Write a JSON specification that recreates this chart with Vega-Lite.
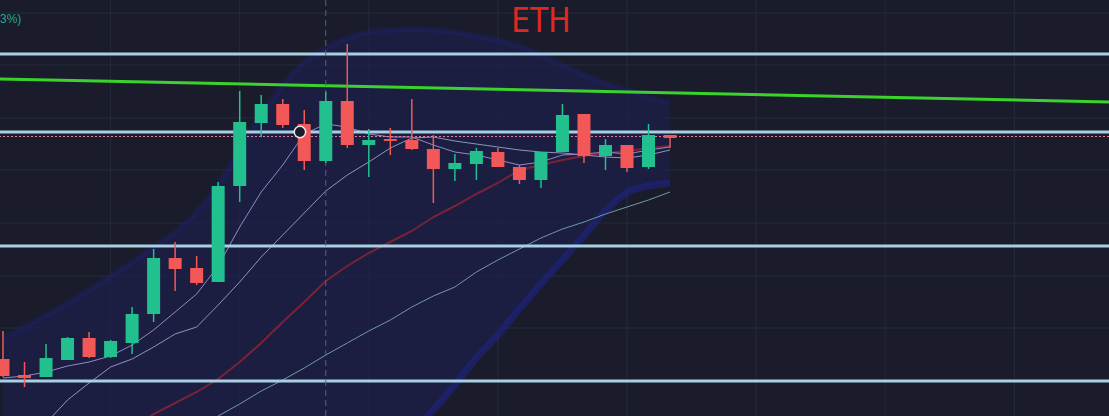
{
  "$schema": "https://vega.github.io/schema/vega-lite/v6.json",
  "width": 1109,
  "height": 416,
  "autosize": {"type": "none"},
  "padding": 0,
  "background": "#1a1c2b",
  "config": {"view": {"stroke": null}},
  "datasets": {
    "candles": [
      {"i": 0, "open": 57, "high": 85, "low": 39, "close": 40},
      {"i": 1, "open": 41, "high": 54, "low": 29, "close": 38},
      {"i": 2, "open": 39, "high": 72, "low": 39, "close": 58},
      {"i": 3, "open": 56, "high": 79, "low": 56, "close": 78},
      {"i": 4, "open": 78, "high": 84, "low": 58, "close": 59},
      {"i": 5, "open": 59, "high": 76, "low": 58, "close": 75},
      {"i": 6, "open": 73, "high": 109, "low": 62, "close": 102},
      {"i": 7, "open": 102, "high": 167, "low": 94, "close": 158},
      {"i": 8, "open": 158, "high": 174, "low": 125, "close": 147},
      {"i": 9, "open": 148, "high": 160, "low": 131, "close": 133},
      {"i": 10, "open": 134, "high": 234, "low": 134, "close": 230},
      {"i": 11, "open": 230, "high": 325, "low": 214, "close": 294},
      {"i": 12, "open": 293, "high": 321, "low": 279, "close": 312},
      {"i": 13, "open": 312, "high": 317, "low": 288, "close": 291},
      {"i": 14, "open": 292, "high": 306, "low": 246, "close": 255},
      {"i": 15, "open": 255, "high": 324, "low": 253, "close": 315},
      {"i": 16, "open": 315, "high": 372, "low": 268, "close": 271},
      {"i": 17, "open": 271, "high": 287, "low": 239, "close": 276},
      {"i": 18, "open": 277, "high": 288, "low": 261, "close": 275},
      {"i": 19, "open": 276, "high": 317, "low": 266, "close": 267},
      {"i": 20, "open": 267, "high": 281, "low": 213, "close": 247},
      {"i": 21, "open": 247, "high": 262, "low": 235, "close": 253},
      {"i": 22, "open": 252, "high": 268, "low": 236, "close": 265},
      {"i": 23, "open": 264, "high": 268, "low": 249, "close": 249},
      {"i": 24, "open": 249, "high": 251, "low": 232, "close": 236},
      {"i": 25, "open": 236, "high": 264, "low": 228, "close": 264},
      {"i": 26, "open": 264, "high": 312, "low": 264, "close": 301},
      {"i": 27, "open": 302, "high": 302, "low": 253, "close": 260},
      {"i": 28, "open": 260, "high": 277, "low": 246, "close": 271},
      {"i": 29, "open": 271, "high": 271, "low": 244, "close": 248},
      {"i": 30, "open": 249, "high": 292, "low": 247, "close": 281},
      {"i": 31, "open": 281, "high": 281, "low": 268, "close": 278}
    ],
    "band": [
      {"i": 0, "up": 78, "lo": -234}, {"i": 1, "up": 89, "lo": -224},
      {"i": 2, "up": 101, "lo": -214}, {"i": 3, "up": 113, "lo": -199},
      {"i": 4, "up": 126, "lo": -184}, {"i": 5, "up": 140, "lo": -169},
      {"i": 6, "up": 154, "lo": -154}, {"i": 7, "up": 169, "lo": -139},
      {"i": 8, "up": 184, "lo": -129}, {"i": 9, "up": 204, "lo": -119},
      {"i": 10, "up": 231, "lo": -109}, {"i": 11, "up": 266, "lo": -99},
      {"i": 12, "up": 301, "lo": -89}, {"i": 13, "up": 331, "lo": -79},
      {"i": 14, "up": 354, "lo": -69}, {"i": 15, "up": 368, "lo": -54},
      {"i": 16, "up": 378, "lo": -46}, {"i": 17, "up": 384, "lo": -39},
      {"i": 18, "up": 386, "lo": -31}, {"i": 19, "up": 387, "lo": -16},
      {"i": 20, "up": 386, "lo": 6}, {"i": 21, "up": 384, "lo": 31},
      {"i": 22, "up": 380, "lo": 58}, {"i": 23, "up": 376, "lo": 81},
      {"i": 24, "up": 370, "lo": 107}, {"i": 25, "up": 361, "lo": 132},
      {"i": 26, "up": 351, "lo": 156}, {"i": 27, "up": 341, "lo": 180},
      {"i": 28, "up": 333, "lo": 205}, {"i": 29, "up": 326, "lo": 223},
      {"i": 30, "up": 319, "lo": 230}, {"i": 31, "up": 313, "lo": 233}
    ],
    "ma": [
      {"k": "fast", "i": 0, "v": 38}, {"k": "fast", "i": 1, "v": 40}, {"k": "fast", "i": 2, "v": 44},
      {"k": "fast", "i": 3, "v": 50}, {"k": "fast", "i": 4, "v": 54}, {"k": "fast", "i": 5, "v": 60},
      {"k": "fast", "i": 6, "v": 71}, {"k": "fast", "i": 7, "v": 86}, {"k": "fast", "i": 8, "v": 104},
      {"k": "fast", "i": 9, "v": 122}, {"k": "fast", "i": 10, "v": 150}, {"k": "fast", "i": 11, "v": 189},
      {"k": "fast", "i": 12, "v": 224}, {"k": "fast", "i": 13, "v": 251}, {"k": "fast", "i": 14, "v": 282},
      {"k": "fast", "i": 15, "v": 292}, {"k": "fast", "i": 16, "v": 289}, {"k": "fast", "i": 17, "v": 282},
      {"k": "fast", "i": 18, "v": 279}, {"k": "fast", "i": 19, "v": 279}, {"k": "fast", "i": 20, "v": 271},
      {"k": "fast", "i": 21, "v": 264}, {"k": "fast", "i": 22, "v": 261}, {"k": "fast", "i": 23, "v": 256},
      {"k": "fast", "i": 24, "v": 251}, {"k": "fast", "i": 25, "v": 254}, {"k": "fast", "i": 26, "v": 261},
      {"k": "fast", "i": 27, "v": 262}, {"k": "fast", "i": 28, "v": 264}, {"k": "fast", "i": 29, "v": 262},
      {"k": "fast", "i": 30, "v": 266}, {"k": "fast", "i": 31, "v": 269},
      {"k": "mid", "i": 0, "v": -39}, {"k": "mid", "i": 1, "v": -24}, {"k": "mid", "i": 2, "v": -7},
      {"k": "mid", "i": 3, "v": 16}, {"k": "mid", "i": 4, "v": 33}, {"k": "mid", "i": 5, "v": 49},
      {"k": "mid", "i": 6, "v": 57}, {"k": "mid", "i": 7, "v": 69}, {"k": "mid", "i": 8, "v": 82},
      {"k": "mid", "i": 9, "v": 89}, {"k": "mid", "i": 10, "v": 111}, {"k": "mid", "i": 11, "v": 134},
      {"k": "mid", "i": 12, "v": 159}, {"k": "mid", "i": 13, "v": 181}, {"k": "mid", "i": 14, "v": 203},
      {"k": "mid", "i": 15, "v": 225}, {"k": "mid", "i": 16, "v": 241}, {"k": "mid", "i": 17, "v": 254},
      {"k": "mid", "i": 18, "v": 268}, {"k": "mid", "i": 19, "v": 278}, {"k": "mid", "i": 20, "v": 279},
      {"k": "mid", "i": 21, "v": 275}, {"k": "mid", "i": 22, "v": 272}, {"k": "mid", "i": 23, "v": 269},
      {"k": "mid", "i": 24, "v": 266}, {"k": "mid", "i": 25, "v": 264}, {"k": "mid", "i": 26, "v": 263},
      {"k": "mid", "i": 27, "v": 261}, {"k": "mid", "i": 28, "v": 259}, {"k": "mid", "i": 29, "v": 258},
      {"k": "mid", "i": 30, "v": 261}, {"k": "mid", "i": 31, "v": 266},
      {"k": "slow", "i": 4, "v": -39}, {"k": "slow", "i": 5, "v": -24}, {"k": "slow", "i": 6, "v": -14},
      {"k": "slow", "i": 7, "v": 2}, {"k": "slow", "i": 8, "v": 13}, {"k": "slow", "i": 9, "v": 24},
      {"k": "slow", "i": 10, "v": 37}, {"k": "slow", "i": 11, "v": 54}, {"k": "slow", "i": 12, "v": 73},
      {"k": "slow", "i": 13, "v": 94}, {"k": "slow", "i": 14, "v": 114}, {"k": "slow", "i": 15, "v": 135},
      {"k": "slow", "i": 16, "v": 150}, {"k": "slow", "i": 17, "v": 163}, {"k": "slow", "i": 18, "v": 174},
      {"k": "slow", "i": 19, "v": 185}, {"k": "slow", "i": 20, "v": 199}, {"k": "slow", "i": 21, "v": 210},
      {"k": "slow", "i": 22, "v": 222}, {"k": "slow", "i": 23, "v": 233}, {"k": "slow", "i": 24, "v": 246},
      {"k": "slow", "i": 25, "v": 251}, {"k": "slow", "i": 26, "v": 256}, {"k": "slow", "i": 27, "v": 260},
      {"k": "slow", "i": 28, "v": 263}, {"k": "slow", "i": 29, "v": 265}, {"k": "slow", "i": 30, "v": 268},
      {"k": "slow", "i": 31, "v": 270},
      {"k": "long", "i": 9, "v": -12}, {"k": "long", "i": 10, "v": 0}, {"k": "long", "i": 11, "v": 12},
      {"k": "long", "i": 12, "v": 25}, {"k": "long", "i": 13, "v": 36}, {"k": "long", "i": 14, "v": 48},
      {"k": "long", "i": 15, "v": 61}, {"k": "long", "i": 16, "v": 73}, {"k": "long", "i": 17, "v": 85},
      {"k": "long", "i": 18, "v": 96}, {"k": "long", "i": 19, "v": 109}, {"k": "long", "i": 20, "v": 120},
      {"k": "long", "i": 21, "v": 129}, {"k": "long", "i": 22, "v": 144}, {"k": "long", "i": 23, "v": 156},
      {"k": "long", "i": 24, "v": 167}, {"k": "long", "i": 25, "v": 178}, {"k": "long", "i": 26, "v": 187},
      {"k": "long", "i": 27, "v": 194}, {"k": "long", "i": 28, "v": 202}, {"k": "long", "i": 29, "v": 209},
      {"k": "long", "i": 30, "v": 216}, {"k": "long", "i": 31, "v": 224}
    ],
    "gridX": [{"i": 5}, {"i": 11}, {"i": 17}, {"i": 23}, {"i": 29}, {"i": 35}, {"i": 41}, {"i": 47}],
    "gridY": [{"v": 403}, {"v": 351}, {"v": 298}, {"v": 246}, {"v": 193}, {"v": 140}, {"v": 88}, {"v": 35}],
    "levels": [{"v": 362}, {"v": 284}, {"v": 170}, {"v": 35}],
    "trend": [{"i": -0.1394, "v": 337}, {"i": 51.4, "v": 314}]
  },
  "layer": [
    {
      "data": {"name": "gridX"},
      "mark": {"type": "rule", "color": "#262a3b", "strokeWidth": 1},
      "encoding": {
        "x": {"field": "i", "type": "quantitative", "scale": {"domain": [-0.1394, 51.4], "nice": false, "zero": false, "padding": 0}, "axis": null}
      }
    },
    {
      "data": {"name": "gridY"},
      "mark": {"type": "rule", "color": "#262a3b", "strokeWidth": 1},
      "encoding": {
        "y": {"field": "v", "type": "quantitative", "scale": {"domain": [0, 416], "nice": false, "zero": false, "padding": 0}, "axis": null}
      }
    },
    {
      "data": {"name": "band"},
      "mark": {"type": "area", "color": "#1d1f4c", "opacity": 0.7, "clip": true, "interpolate": "monotone"},
      "encoding": {
        "x": {"field": "i", "type": "quantitative"},
        "y": {"field": "up", "type": "quantitative"},
        "y2": {"field": "lo"}
      }
    },
    {
      "data": {"name": "band"},
      "mark": {"type": "line", "color": "#21259a", "strokeWidth": 6, "opacity": 0.2, "clip": true, "interpolate": "monotone"},
      "encoding": {
        "x": {"field": "i", "type": "quantitative"},
        "y": {"field": "up", "type": "quantitative"}
      }
    },
    {
      "data": {"name": "band"},
      "mark": {"type": "line", "color": "#2226a0", "strokeWidth": 7, "opacity": 0.45, "clip": true, "interpolate": "monotone"},
      "encoding": {
        "x": {"field": "i", "type": "quantitative"},
        "y": {"field": "lo", "type": "quantitative"}
      }
    },
    {
      "data": {"name": "ma"},
      "transform": [{"filter": "datum.k == 'long'"}],
      "mark": {"type": "line", "color": "#6d9c9e", "strokeWidth": 1, "clip": true},
      "encoding": {
        "x": {"field": "i", "type": "quantitative"},
        "y": {"field": "v", "type": "quantitative"}
      }
    },
    {
      "data": {"name": "ma"},
      "transform": [{"filter": "datum.k == 'slow'"}],
      "mark": {"type": "line", "color": "#7a2236", "strokeWidth": 2, "clip": true},
      "encoding": {
        "x": {"field": "i", "type": "quantitative"},
        "y": {"field": "v", "type": "quantitative"}
      }
    },
    {
      "data": {"name": "ma"},
      "transform": [{"filter": "datum.k == 'mid'"}],
      "mark": {"type": "line", "color": "#8a96bc", "strokeWidth": 1, "clip": true},
      "encoding": {
        "x": {"field": "i", "type": "quantitative"},
        "y": {"field": "v", "type": "quantitative"}
      }
    },
    {
      "data": {"name": "ma"},
      "transform": [{"filter": "datum.k == 'fast'"}],
      "mark": {"type": "line", "color": "#9488c8", "strokeWidth": 1, "clip": true},
      "encoding": {
        "x": {"field": "i", "type": "quantitative"},
        "y": {"field": "v", "type": "quantitative"}
      }
    },
    {
      "data": {"name": "trend"},
      "mark": {"type": "line", "color": "#3cd22e", "strokeWidth": 3, "clip": true},
      "encoding": {
        "x": {"field": "i", "type": "quantitative"},
        "y": {"field": "v", "type": "quantitative"}
      }
    },
    {
      "data": {"name": "levels"},
      "mark": {"type": "rule", "color": "#a8cfe2", "strokeWidth": 3},
      "encoding": {
        "y": {"field": "v", "type": "quantitative"}
      }
    },
    {
      "data": {"values": [{"v": 279.5}]},
      "mark": {"type": "rule", "color": "#e97f9e", "strokeWidth": 1, "strokeDash": [2, 2]},
      "encoding": {
        "y": {"field": "v", "type": "quantitative"}
      }
    },
    {
      "data": {"values": [{"i": 15}]},
      "mark": {"type": "rule", "color": "#5c6072", "strokeWidth": 1, "strokeDash": [6, 4]},
      "encoding": {
        "x": {"field": "i", "type": "quantitative"}
      }
    },
    {
      "data": {"name": "candles"},
      "mark": {"type": "rule", "strokeWidth": 1.5},
      "encoding": {
        "x": {"field": "i", "type": "quantitative"},
        "y": {"field": "low", "type": "quantitative"},
        "y2": {"field": "high"},
        "color": {"condition": {"test": "datum.close >= datum.open", "value": "#22c08e"}, "value": "#f25858"}
      }
    },
    {
      "data": {"name": "candles"},
      "mark": {"type": "bar", "width": 13},
      "encoding": {
        "x": {"field": "i", "type": "quantitative"},
        "y": {"field": "open", "type": "quantitative"},
        "y2": {"field": "close"},
        "color": {"condition": {"test": "datum.close >= datum.open", "value": "#22c08e"}, "value": "#f25858"}
      }
    },
    {
      "data": {"values": [{"i": 13.8, "v": 284}]},
      "mark": {"type": "point", "filled": false, "size": 130, "stroke": "#e8e8f0", "strokeWidth": 1.5, "fill": "#1a1c2b", "fillOpacity": 1},
      "encoding": {
        "x": {"field": "i", "type": "quantitative"},
        "y": {"field": "v", "type": "quantitative"}
      }
    },
    {
      "data": {"values": [{"i": 25.0, "v": 384, "t": "ETH"}]},
      "mark": {"type": "text", "font": "Liberation Sans Narrow, DejaVu Sans Condensed, Liberation Sans", "fontSize": 33, "color": "#e0281f", "align": "center", "baseline": "alphabetic"},
      "encoding": {
        "x": {"field": "i", "type": "quantitative"},
        "y": {"field": "v", "type": "quantitative"},
        "text": {"field": "t"}
      }
    },
    {
      "data": {"values": [{"i": -0.1394, "v": 393, "t": "3%)"}]},
      "mark": {"type": "text", "font": "Liberation Sans", "fontSize": 12, "color": "#2aa594", "align": "left", "baseline": "alphabetic"},
      "encoding": {
        "x": {"field": "i", "type": "quantitative"},
        "y": {"field": "v", "type": "quantitative"},
        "text": {"field": "t"}
      }
    }
  ]
}
